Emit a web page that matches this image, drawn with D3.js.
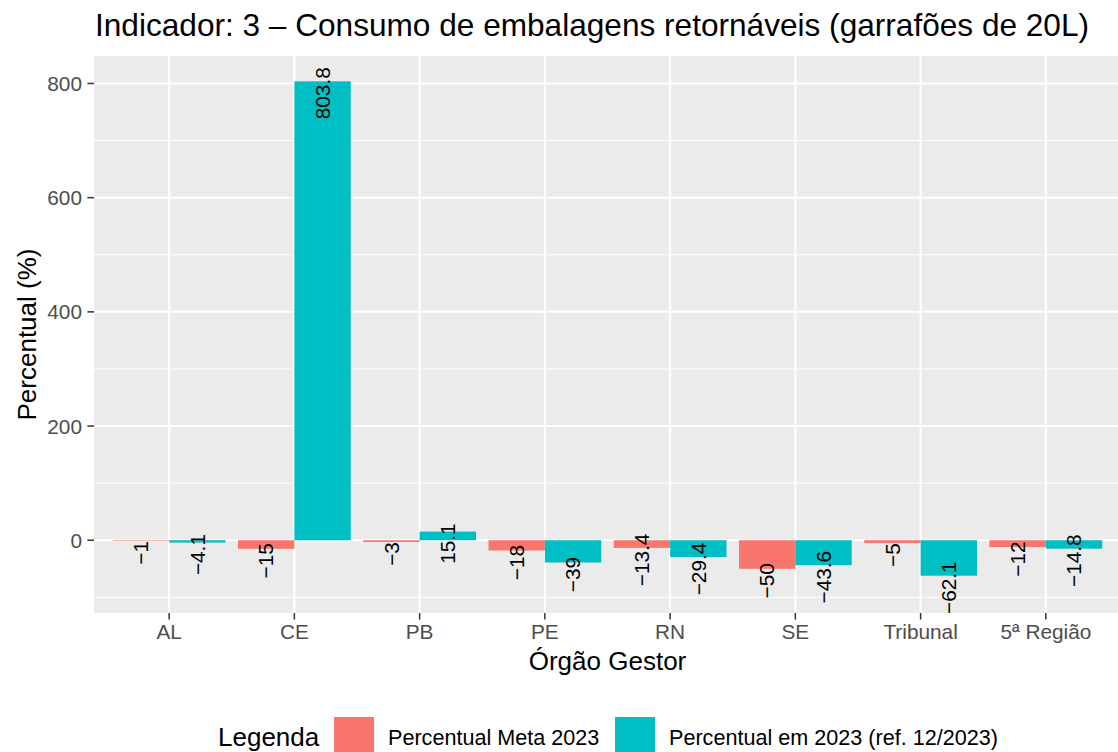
<!DOCTYPE html>
<html>
<head>
<meta charset="utf-8">
<script src="https://cdn.jsdelivr.net/npm/d3@7"></script>
<style>
  body { margin: 0; background: #fff; }
  svg { display: block; font-family: "Liberation Sans", Arial, Helvetica, sans-serif; }
</style>
</head>
<body>
<svg id="chart" width="1118" height="752"></svg>
<script>
var width = 1118;
var height = 752;
var panel = {left: 94, right: 1121, top: 56, bottom: 613};

// data
var orgaos = ["AL", "CE", "PB", "PE", "RN", "SE", "Tribunal", "5ª Região"];
var meta2023 = [-1, -15, -3, -18, -13.4, -50, -5, -12];
var real2023 = [-4.1, 803.8, 15.1, -39, -29.4, -43.6, -62.1, -14.8];
var series = ["Percentual Meta 2023", "Percentual em 2023 (ref. 12/2023)"];
var cores = ["#F8766D", "#00BFC4"];
var yTicks = [0, 200, 400, 600, 800];
var yMinor = [-100, 100, 300, 500, 700];

var labelNudge = -21; // labels sit a bit below the value

var svg = d3.select("#chart");

var rows = [];
orgaos.forEach(function(o, i) {
    rows.push({orgao: o, serie: 0, valor: meta2023[i]});
    rows.push({orgao: o, serie: 1, valor: real2023[i]});
});

// y domain like ggplot: data + labels, expanded 5%
var lo = d3.min(rows, function(d) { return Math.min(0, d.valor, d.valor + labelNudge); });
var hi = d3.max(rows, function(d) { return Math.max(0, d.valor); });
var pad = (hi - lo) * 0.05;

var y = d3.scaleLinear()
    .domain([lo - pad, hi + pad])
    .range([panel.bottom, panel.top]);

var x = d3.scalePoint()
    .domain(orgaos)
    .range([panel.left, panel.right])
    .padding(0.6);

var step = x.step();
var barW = step * 0.45;

// panel background
svg.append("rect")
    .attr("x", panel.left)
    .attr("y", panel.top)
    .attr("width", panel.right - panel.left)
    .attr("height", panel.bottom - panel.top)
    .attr("fill", "#EBEBEB");

// minor grid
svg.selectAll(".minor").data(yMinor).enter().append("line")
    .attr("x1", panel.left).attr("x2", panel.right)
    .attr("y1", function(d) { return y(d); })
    .attr("y2", function(d) { return y(d); })
    .attr("stroke", "#fff").attr("stroke-width", 1);

// major grid
svg.selectAll(".majorY").data(yTicks).enter().append("line")
    .attr("x1", panel.left).attr("x2", panel.right)
    .attr("y1", function(d) { return y(d); })
    .attr("y2", function(d) { return y(d); })
    .attr("stroke", "#fff").attr("stroke-width", 2);

svg.selectAll(".majorX").data(orgaos).enter().append("line")
    .attr("y1", panel.top).attr("y2", panel.bottom)
    .attr("x1", function(d) { return x(d); })
    .attr("x2", function(d) { return x(d); })
    .attr("stroke", "#fff").attr("stroke-width", 2);

// bars
svg.selectAll(".bar").data(rows).enter().append("rect")
    .attr("x", function(d) { return x(d.orgao) + (d.serie - 1) * barW; })
    .attr("width", barW)
    .attr("y", function(d) { return y(Math.max(0, d.valor)); })
    .attr("height", function(d) { return Math.abs(y(d.valor) - y(0)); })
    .attr("fill", function(d) { return cores[d.serie]; });

// value labels, rotated
svg.selectAll(".lbl").data(rows).enter().append("text")
    .attr("transform", function(d) {
        var cx = x(d.orgao) + (d.serie - 0.5) * barW;
        return "translate(" + cx + "," + y(d.valor + labelNudge) + ") rotate(-90)";
    })
    .attr("text-anchor", "middle")
    .attr("dy", "0.35em")
    .style("font-size", "20.8px")
    .attr("fill", "#000")
    .text(function(d) { return String(d.valor).replace("-", "\u2212"); });

// y axis
var yAxis = svg.append("g");
yAxis.selectAll("line").data(yTicks).enter().append("line")
    .attr("x1", panel.left - 6.6).attr("x2", panel.left)
    .attr("y1", function(d) { return y(d); })
    .attr("y2", function(d) { return y(d); })
    .attr("stroke", "#333").attr("stroke-width", 1.5);
yAxis.selectAll("text").data(yTicks).enter().append("text")
    .attr("x", 82)
    .attr("y", function(d) { return y(d); })
    .attr("dy", "0.36em")
    .attr("text-anchor", "end")
    .attr("fill", "#4D4D4D")
    .style("font-size", "20.8px")
    .text(function(d) { return d; });

// x axis
var xAxis = svg.append("g");
xAxis.selectAll("line").data(orgaos).enter().append("line")
    .attr("y1", panel.bottom).attr("y2", panel.bottom + 6.6)
    .attr("x1", function(d) { return x(d); })
    .attr("x2", function(d) { return x(d); })
    .attr("stroke", "#333").attr("stroke-width", 1.5);
xAxis.selectAll("text").data(orgaos).enter().append("text")
    .attr("x", function(d) { return x(d); })
    .attr("y", 639)
    .attr("text-anchor", "middle")
    .attr("fill", "#4D4D4D")
    .style("font-size", "20.8px")
    .text(function(d) { return d; });

// axis titles
svg.append("text")
    .attr("x", (panel.left + panel.right) / 2)
    .attr("y", 670)
    .attr("text-anchor", "middle")
    .style("font-size", "26px")
    .text("Órgão Gestor");

svg.append("text")
    .attr("transform", "translate(36," + (panel.top + panel.bottom) / 2 + ") rotate(-90)")
    .attr("text-anchor", "middle")
    .style("font-size", "26px")
    .text("Percentual (%)");

// title
svg.append("text")
    .attr("x", panel.left + 1)
    .attr("y", 36)
    .style("font-size", "31.6px")
    .text("Indicador: 3 \u2013 Consumo de embalagens retornáveis (garrafões de 20L)");

// legend
var legY = 717;
var keyS = 40;
svg.append("text")
    .attr("x", 218)
    .attr("y", legY + keyS / 2)
    .attr("dy", "0.36em")
    .style("font-size", "26px")
    .text("Legenda");

var legX = [334, 615];
series.forEach(function(s, i) {
    svg.append("rect")
        .attr("x", legX[i]).attr("y", legY)
        .attr("width", keyS).attr("height", keyS)
        .attr("fill", cores[i]);
    svg.append("text")
        .attr("x", legX[i] + keyS + 14)
        .attr("y", legY + keyS / 2)
        .attr("dy", "0.36em")
        .style("font-size", "21.6px")
        .text(s);
});
</script>
</body>
</html>
